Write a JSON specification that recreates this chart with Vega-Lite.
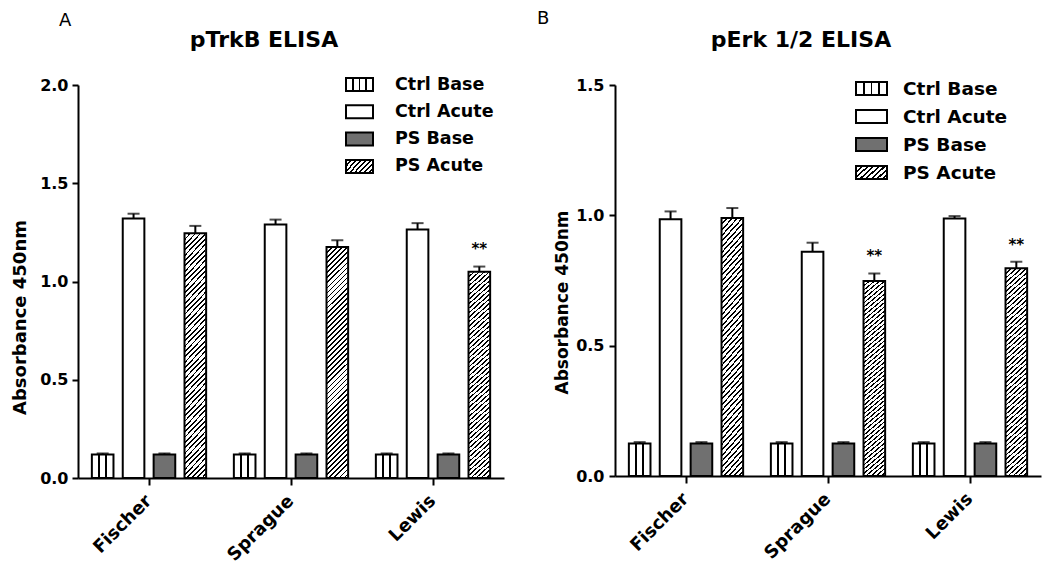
{
"$schema":"https://vega.github.io/schema/vega-lite/v6.json",
"padding":{"left":11,"top":10,"right":5,"bottom":5},
"columns":2,
"align":"none",
"spacing":33,
"resolve":{"scale":{"stroke":"independent"},"legend":{"stroke":"independent"}},
"params":[
{"name":"hatchBar","value":{"gradient":"linear","x1":0,"y1":0,"x2":0.1013,"y2":1.084,"stops":[
{"offset":0,"color":"#000"},{"offset":0.007,"color":"#000"},{"offset":0.007,"color":"#fff"},{"offset":0.02,"color":"#fff"},
{"offset":0.02,"color":"#000"},{"offset":0.027,"color":"#000"},{"offset":0.027,"color":"#fff"},{"offset":0.04,"color":"#fff"},
{"offset":0.04,"color":"#000"},{"offset":0.047,"color":"#000"},{"offset":0.047,"color":"#fff"},{"offset":0.06,"color":"#fff"},
{"offset":0.06,"color":"#000"},{"offset":0.067,"color":"#000"},{"offset":0.067,"color":"#fff"},{"offset":0.08,"color":"#fff"},
{"offset":0.08,"color":"#000"},{"offset":0.087,"color":"#000"},{"offset":0.087,"color":"#fff"},{"offset":0.1,"color":"#fff"},
{"offset":0.1,"color":"#000"},{"offset":0.107,"color":"#000"},{"offset":0.107,"color":"#fff"},{"offset":0.12,"color":"#fff"},
{"offset":0.12,"color":"#000"},{"offset":0.127,"color":"#000"},{"offset":0.127,"color":"#fff"},{"offset":0.14,"color":"#fff"},
{"offset":0.14,"color":"#000"},{"offset":0.147,"color":"#000"},{"offset":0.147,"color":"#fff"},{"offset":0.16,"color":"#fff"},
{"offset":0.16,"color":"#000"},{"offset":0.167,"color":"#000"},{"offset":0.167,"color":"#fff"},{"offset":0.18,"color":"#fff"},
{"offset":0.18,"color":"#000"},{"offset":0.187,"color":"#000"},{"offset":0.187,"color":"#fff"},{"offset":0.2,"color":"#fff"},
{"offset":0.2,"color":"#000"},{"offset":0.207,"color":"#000"},{"offset":0.207,"color":"#fff"},{"offset":0.22,"color":"#fff"},
{"offset":0.22,"color":"#000"},{"offset":0.227,"color":"#000"},{"offset":0.227,"color":"#fff"},{"offset":0.24,"color":"#fff"},
{"offset":0.24,"color":"#000"},{"offset":0.247,"color":"#000"},{"offset":0.247,"color":"#fff"},{"offset":0.26,"color":"#fff"},
{"offset":0.26,"color":"#000"},{"offset":0.267,"color":"#000"},{"offset":0.267,"color":"#fff"},{"offset":0.28,"color":"#fff"},
{"offset":0.28,"color":"#000"},{"offset":0.287,"color":"#000"},{"offset":0.287,"color":"#fff"},{"offset":0.3,"color":"#fff"},
{"offset":0.3,"color":"#000"},{"offset":0.307,"color":"#000"},{"offset":0.307,"color":"#fff"},{"offset":0.32,"color":"#fff"},
{"offset":0.32,"color":"#000"},{"offset":0.327,"color":"#000"},{"offset":0.327,"color":"#fff"},{"offset":0.34,"color":"#fff"},
{"offset":0.34,"color":"#000"},{"offset":0.347,"color":"#000"},{"offset":0.347,"color":"#fff"},{"offset":0.36,"color":"#fff"},
{"offset":0.36,"color":"#000"},{"offset":0.367,"color":"#000"},{"offset":0.367,"color":"#fff"},{"offset":0.38,"color":"#fff"},
{"offset":0.38,"color":"#000"},{"offset":0.387,"color":"#000"},{"offset":0.387,"color":"#fff"},{"offset":0.4,"color":"#fff"},
{"offset":0.4,"color":"#000"},{"offset":0.407,"color":"#000"},{"offset":0.407,"color":"#fff"},{"offset":0.42,"color":"#fff"},
{"offset":0.42,"color":"#000"},{"offset":0.427,"color":"#000"},{"offset":0.427,"color":"#fff"},{"offset":0.44,"color":"#fff"},
{"offset":0.44,"color":"#000"},{"offset":0.447,"color":"#000"},{"offset":0.447,"color":"#fff"},{"offset":0.46,"color":"#fff"},
{"offset":0.46,"color":"#000"},{"offset":0.467,"color":"#000"},{"offset":0.467,"color":"#fff"},{"offset":0.48,"color":"#fff"},
{"offset":0.48,"color":"#000"},{"offset":0.487,"color":"#000"},{"offset":0.487,"color":"#fff"},{"offset":0.5,"color":"#fff"},
{"offset":0.5,"color":"#000"},{"offset":0.507,"color":"#000"},{"offset":0.507,"color":"#fff"},{"offset":0.52,"color":"#fff"},
{"offset":0.52,"color":"#000"},{"offset":0.527,"color":"#000"},{"offset":0.527,"color":"#fff"},{"offset":0.54,"color":"#fff"},
{"offset":0.54,"color":"#000"},{"offset":0.547,"color":"#000"},{"offset":0.547,"color":"#fff"},{"offset":0.56,"color":"#fff"},
{"offset":0.56,"color":"#000"},{"offset":0.567,"color":"#000"},{"offset":0.567,"color":"#fff"},{"offset":0.58,"color":"#fff"},
{"offset":0.58,"color":"#000"},{"offset":0.587,"color":"#000"},{"offset":0.587,"color":"#fff"},{"offset":0.6,"color":"#fff"},
{"offset":0.6,"color":"#000"},{"offset":0.607,"color":"#000"},{"offset":0.607,"color":"#fff"},{"offset":0.62,"color":"#fff"},
{"offset":0.62,"color":"#000"},{"offset":0.627,"color":"#000"},{"offset":0.627,"color":"#fff"},{"offset":0.64,"color":"#fff"},
{"offset":0.64,"color":"#000"},{"offset":0.647,"color":"#000"},{"offset":0.647,"color":"#fff"},{"offset":0.66,"color":"#fff"},
{"offset":0.66,"color":"#000"},{"offset":0.667,"color":"#000"},{"offset":0.667,"color":"#fff"},{"offset":0.68,"color":"#fff"},
{"offset":0.68,"color":"#000"},{"offset":0.687,"color":"#000"},{"offset":0.687,"color":"#fff"},{"offset":0.7,"color":"#fff"},
{"offset":0.7,"color":"#000"},{"offset":0.707,"color":"#000"},{"offset":0.707,"color":"#fff"},{"offset":0.72,"color":"#fff"},
{"offset":0.72,"color":"#000"},{"offset":0.727,"color":"#000"},{"offset":0.727,"color":"#fff"},{"offset":0.74,"color":"#fff"},
{"offset":0.74,"color":"#000"},{"offset":0.747,"color":"#000"},{"offset":0.747,"color":"#fff"},{"offset":0.76,"color":"#fff"},
{"offset":0.76,"color":"#000"},{"offset":0.767,"color":"#000"},{"offset":0.767,"color":"#fff"},{"offset":0.78,"color":"#fff"},
{"offset":0.78,"color":"#000"},{"offset":0.787,"color":"#000"},{"offset":0.787,"color":"#fff"},{"offset":0.8,"color":"#fff"},
{"offset":0.8,"color":"#000"},{"offset":0.807,"color":"#000"},{"offset":0.807,"color":"#fff"},{"offset":0.82,"color":"#fff"},
{"offset":0.82,"color":"#000"},{"offset":0.827,"color":"#000"},{"offset":0.827,"color":"#fff"},{"offset":0.84,"color":"#fff"},
{"offset":0.84,"color":"#000"},{"offset":0.847,"color":"#000"},{"offset":0.847,"color":"#fff"},{"offset":0.86,"color":"#fff"},
{"offset":0.86,"color":"#000"},{"offset":0.867,"color":"#000"},{"offset":0.867,"color":"#fff"},{"offset":0.88,"color":"#fff"},
{"offset":0.88,"color":"#000"},{"offset":0.887,"color":"#000"},{"offset":0.887,"color":"#fff"},{"offset":0.9,"color":"#fff"},
{"offset":0.9,"color":"#000"},{"offset":0.907,"color":"#000"},{"offset":0.907,"color":"#fff"},{"offset":0.92,"color":"#fff"},
{"offset":0.92,"color":"#000"},{"offset":0.927,"color":"#000"},{"offset":0.927,"color":"#fff"},{"offset":0.94,"color":"#fff"},
{"offset":0.94,"color":"#000"},{"offset":0.947,"color":"#000"},{"offset":0.947,"color":"#fff"},{"offset":0.96,"color":"#fff"},
{"offset":0.96,"color":"#000"},{"offset":0.967,"color":"#000"},{"offset":0.967,"color":"#fff"},{"offset":0.98,"color":"#fff"},
{"offset":0.98,"color":"#000"},{"offset":0.987,"color":"#000"},{"offset":0.987,"color":"#fff"},{"offset":1,"color":"#fff"}
]}},
{"name":"hatchLeg","value":{"gradient":"linear","x1":0,"y1":0,"x2":1.2,"y2":0.55,"stops":[
{"offset":0,"color":"#000"},{"offset":0.05,"color":"#000"},{"offset":0.05,"color":"#fff"},{"offset":0.125,"color":"#fff"},
{"offset":0.125,"color":"#000"},{"offset":0.175,"color":"#000"},{"offset":0.175,"color":"#fff"},{"offset":0.25,"color":"#fff"},
{"offset":0.25,"color":"#000"},{"offset":0.3,"color":"#000"},{"offset":0.3,"color":"#fff"},{"offset":0.375,"color":"#fff"},
{"offset":0.375,"color":"#000"},{"offset":0.425,"color":"#000"},{"offset":0.425,"color":"#fff"},{"offset":0.5,"color":"#fff"},
{"offset":0.5,"color":"#000"},{"offset":0.55,"color":"#000"},{"offset":0.55,"color":"#fff"},{"offset":0.625,"color":"#fff"},
{"offset":0.625,"color":"#000"},{"offset":0.675,"color":"#000"},{"offset":0.675,"color":"#fff"},{"offset":0.75,"color":"#fff"},
{"offset":0.75,"color":"#000"},{"offset":0.8,"color":"#000"},{"offset":0.8,"color":"#fff"},{"offset":0.875,"color":"#fff"},
{"offset":0.875,"color":"#000"},{"offset":0.925,"color":"#000"},{"offset":0.925,"color":"#fff"},{"offset":1,"color":"#fff"}
]}},
{"name":"vlinesBar","value":{"gradient":"linear","x1":0,"y1":0,"x2":1,"y2":0,"stops":[
{"offset":0,"color":"#fff"},{"offset":0.3,"color":"#fff"},{"offset":0.3,"color":"#000"},{"offset":0.37,"color":"#000"},{"offset":0.37,"color":"#fff"},
{"offset":0.63,"color":"#fff"},{"offset":0.63,"color":"#000"},{"offset":0.7,"color":"#000"},{"offset":0.7,"color":"#fff"},{"offset":1,"color":"#fff"}
]}},
{"name":"vlinesLeg","value":{"gradient":"linear","x1":0,"y1":0,"x2":1,"y2":0,"stops":[
{"offset":0,"color":"#fff"},{"offset":0.22,"color":"#fff"},{"offset":0.22,"color":"#000"},{"offset":0.28,"color":"#000"},{"offset":0.28,"color":"#fff"},
{"offset":0.47,"color":"#fff"},{"offset":0.47,"color":"#000"},{"offset":0.53,"color":"#000"},{"offset":0.53,"color":"#fff"},
{"offset":0.72,"color":"#fff"},{"offset":0.72,"color":"#000"},{"offset":0.78,"color":"#000"},{"offset":0.78,"color":"#fff"},{"offset":1,"color":"#fff"}
]}}
],
"concat":[
{
"title":{"text":"A","fontSize":18,"fontWeight":"normal","anchor":"start","frame":"group","dx":-19,"offset":-1},
"vconcat":[{
"title":{"text":"pTrkB ELISA","fontSize":22,"fontWeight":"bold","anchor":"middle","frame":"group","dx":-27,"offset":25},
"width":426,"height":393,
"data":{"values":[
{"strain":"Fischer","group":"Ctrl Base","value":0.12,"upper":0.125,"sig":""},
{"strain":"Fischer","group":"Ctrl Acute","value":1.32,"upper":1.345,"sig":""},
{"strain":"Fischer","group":"PS Base","value":0.12,"upper":0.125,"sig":""},
{"strain":"Fischer","group":"PS Acute","value":1.245,"upper":1.283,"sig":""},
{"strain":"Sprague","group":"Ctrl Base","value":0.12,"upper":0.125,"sig":""},
{"strain":"Sprague","group":"Ctrl Acute","value":1.29,"upper":1.315,"sig":""},
{"strain":"Sprague","group":"PS Base","value":0.12,"upper":0.125,"sig":""},
{"strain":"Sprague","group":"PS Acute","value":1.175,"upper":1.21,"sig":""},
{"strain":"Lewis","group":"Ctrl Base","value":0.12,"upper":0.125,"sig":""},
{"strain":"Lewis","group":"Ctrl Acute","value":1.265,"upper":1.297,"sig":""},
{"strain":"Lewis","group":"PS Base","value":0.12,"upper":0.125,"sig":""},
{"strain":"Lewis","group":"PS Acute","value":1.05,"upper":1.076,"sig":"**"}
]},
"encoding":{
"x":{"field":"strain","type":"nominal","sort":["Fischer","Sprague","Lewis"],"scale":{"paddingInner":0.13,"paddingOuter":0.065},
"axis":{"title":null,"labelAngle":-45,"labelAlign":"right","labelBaseline":"middle","labelFontSize":18,"labelPadding":13,"tickSize":7}},
"xOffset":{"field":"group","type":"nominal","sort":["Ctrl Base","Ctrl Acute","PS Base","PS Acute"],"scale":{"paddingInner":0.3,"paddingOuter":0.15}}
},
"layer":[
{"mark":{"type":"bar","strokeWidth":2},
"encoding":{
"y":{"field":"value","type":"quantitative","title":"Absorbance 450nm","scale":{"domain":[0,2],"nice":false},
"axis":{"values":[0,0.5,1,1.5,2],"format":".1f","tickSize":6,"labelPadding":4,"titlePadding":10,"titleFontSize":18,"titleY":232}},
"fill":{"condition":[{"test":"datum.group === 'Ctrl Base'","value":{"expr":"vlinesBar"}},{"test":"datum.group === 'PS Acute'","value":{"expr":"hatchBar"}},{"test":"datum.group === 'PS Base'","value":"#707070"}],"value":"white"},
"stroke":{"field":"group","type":"nominal","scale":{"domain":["Ctrl Base","Ctrl Acute","PS Base","PS Acute"],"range":["black","black","black","black"]},
"legend":{"title":null,"orient":"none","legendX":267,"legendY":-15,"padding":0,"symbolType":"M-1,-0.48H1V0.48H-1Z","symbolSize":729,"symbolStrokeColor":"black","symbolStrokeWidth":2,"rowPadding":2.3,"labelOffset":21,"labelFontSize":17.5,"labelFont":"DejaVu Sans","labelFontWeight":"bold","labelColor":"black","labelLimit":200,
"encoding":{"symbols":{"stroke":{"value":"black"},"strokeWidth":{"value":2},"fill":{"value":{"expr":"datum.value === 'Ctrl Base' ? vlinesLeg : datum.value === 'PS Acute' ? hatchLeg : datum.value === 'PS Base' ? '#707070' : 'white'"}}}}}}
}},
{"mark":{"type":"rule","color":"black","strokeWidth":2},
"encoding":{"y":{"field":"value","type":"quantitative","title":"Absorbance 450nm"},"y2":{"field":"upper"}}},
{"mark":{"type":"tick","orient":"horizontal","color":"black","size":12,"thickness":2},
"encoding":{"y":{"field":"upper","type":"quantitative","title":"Absorbance 450nm"}}},
{"transform":[{"filter":"datum.sig != ''"}],
"mark":{"type":"text","text":"**","fontSize":15,"fontWeight":"bold","font":"DejaVu Sans","color":"black","dy":-18},
"encoding":{"y":{"field":"upper","type":"quantitative","title":"Absorbance 450nm"}}}
]
}]
},
{
"title":{"text":"B","fontSize":18,"fontWeight":"normal","anchor":"start","frame":"group","dx":-78,"offset":1},
"vconcat":[{
"title":{"text":"pErk 1/2 ELISA","fontSize":22,"fontWeight":"bold","anchor":"middle","frame":"group","dx":-27,"offset":25},
"width":426,"height":391,
"data":{"values":[
{"strain":"Fischer","group":"Ctrl Base","value":0.125,"upper":0.13,"sig":""},
{"strain":"Fischer","group":"Ctrl Acute","value":0.985,"upper":1.015,"sig":""},
{"strain":"Fischer","group":"PS Base","value":0.125,"upper":0.13,"sig":""},
{"strain":"Fischer","group":"PS Acute","value":0.99,"upper":1.028,"sig":""},
{"strain":"Sprague","group":"Ctrl Base","value":0.125,"upper":0.13,"sig":""},
{"strain":"Sprague","group":"Ctrl Acute","value":0.86,"upper":0.895,"sig":""},
{"strain":"Sprague","group":"PS Base","value":0.125,"upper":0.13,"sig":""},
{"strain":"Sprague","group":"PS Acute","value":0.748,"upper":0.777,"sig":"**"},
{"strain":"Lewis","group":"Ctrl Base","value":0.125,"upper":0.13,"sig":""},
{"strain":"Lewis","group":"Ctrl Acute","value":0.988,"upper":0.997,"sig":""},
{"strain":"Lewis","group":"PS Base","value":0.125,"upper":0.13,"sig":""},
{"strain":"Lewis","group":"PS Acute","value":0.797,"upper":0.822,"sig":"**"}
]},
"encoding":{
"x":{"field":"strain","type":"nominal","sort":["Fischer","Sprague","Lewis"],"scale":{"paddingInner":0.13,"paddingOuter":0.065},
"axis":{"title":null,"labelAngle":-45,"labelAlign":"right","labelBaseline":"middle","labelFontSize":18,"labelPadding":13,"tickSize":7}},
"xOffset":{"field":"group","type":"nominal","sort":["Ctrl Base","Ctrl Acute","PS Base","PS Acute"],"scale":{"paddingInner":0.3,"paddingOuter":0.15}}
},
"layer":[
{"mark":{"type":"bar","strokeWidth":2},
"encoding":{
"y":{"field":"value","type":"quantitative","title":"Absorbance 450nm","scale":{"domain":[0,1.5],"nice":false},
"axis":{"values":[0,0.5,1,1.5],"format":".1f","tickSize":6,"labelPadding":5,"titlePadding":4,"titleFontSize":17,"titleY":217}},
"fill":{"condition":[{"test":"datum.group === 'Ctrl Base'","value":{"expr":"vlinesBar"}},{"test":"datum.group === 'PS Acute'","value":{"expr":"hatchBar"}},{"test":"datum.group === 'PS Base'","value":"#707070"}],"value":"white"},
"stroke":{"field":"group","type":"nominal","scale":{"domain":["Ctrl Base","Ctrl Acute","PS Base","PS Acute"],"range":["black","black","black","black"]},
"legend":{"title":null,"orient":"none","legendX":240,"legendY":-13,"padding":0,"symbolType":"M-1,-0.42H1V0.42H-1Z","symbolSize":961,"symbolStrokeColor":"black","symbolStrokeWidth":2,"rowPadding":-5.5,"labelOffset":15,"labelFontSize":18.5,"labelFont":"DejaVu Sans","labelFontWeight":"bold","labelColor":"black","labelLimit":200,
"encoding":{"symbols":{"stroke":{"value":"black"},"strokeWidth":{"value":2},"fill":{"value":{"expr":"datum.value === 'Ctrl Base' ? vlinesLeg : datum.value === 'PS Acute' ? hatchLeg : datum.value === 'PS Base' ? '#707070' : 'white'"}}}}}}
}},
{"mark":{"type":"rule","color":"black","strokeWidth":2},
"encoding":{"y":{"field":"value","type":"quantitative","title":"Absorbance 450nm"},"y2":{"field":"upper"}}},
{"mark":{"type":"tick","orient":"horizontal","color":"black","size":12,"thickness":2},
"encoding":{"y":{"field":"upper","type":"quantitative","title":"Absorbance 450nm"}}},
{"transform":[{"filter":"datum.sig != ''"}],
"mark":{"type":"text","text":"**","fontSize":15,"fontWeight":"bold","font":"DejaVu Sans","color":"black","dy":-17},
"encoding":{"y":{"field":"upper","type":"quantitative","title":"Absorbance 450nm"}}}
]
}]
}
],
"config":{
"view":{"stroke":null},
"font":"DejaVu Sans",
"title":{"font":"DejaVu Sans","color":"black"},
"axis":{"domainColor":"black","domainWidth":2,"tickColor":"black","tickWidth":2,"labelColor":"black","labelFont":"DejaVu Sans","labelFontWeight":"bold","labelFontSize":16,"titleFont":"DejaVu Sans","titleFontWeight":"bold","titleColor":"black","grid":false}
}
}
